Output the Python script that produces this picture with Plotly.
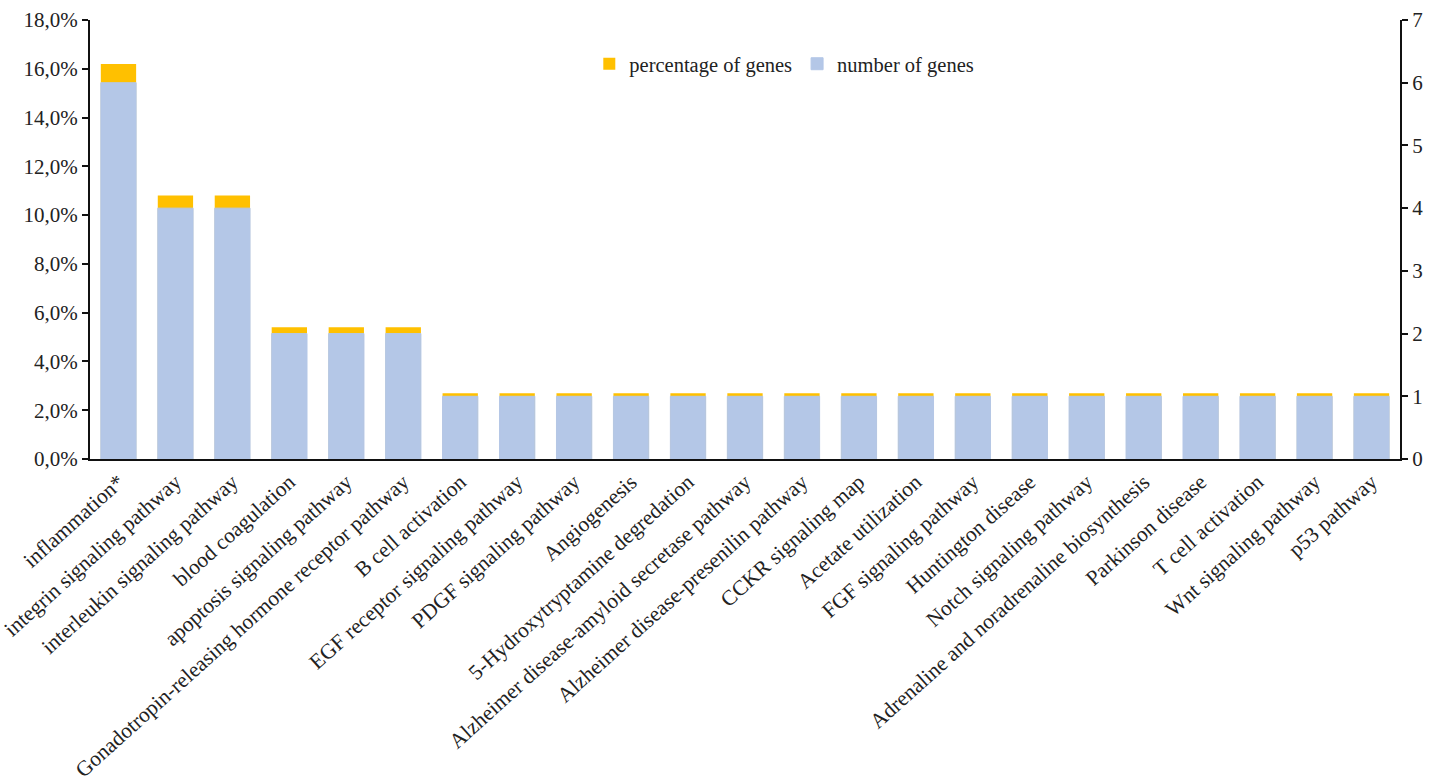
import plotly.graph_objects as go

categories = [
    "inflammation*", "integrin signaling pathway", "interleukin signaling pathway",
    "blood coagulation", "apoptosis signaling pathway",
    "Gonadotropin-releasing hormone receptor pathway", "B cell activation",
    "EGF receptor signaling pathway", "PDGF signaling pathway", "Angiogenesis",
    "5-Hydroxytryptamine degredation", "Alzheimer disease-amyloid secretase pathway",
    "Alzheimer disease-presenilin pathway", "CCKR signaling map", "Acetate utilization",
    "FGF signaling pathway", "Huntington disease", "Notch signaling pathway",
    "Adrenaline and noradrenaline biosynthesis", "Parkinson disease", "T cell activation",
    "Wnt signaling pathway", "p53 pathway",
]
percentage_of_genes = [16.2, 10.8, 10.8, 5.4, 5.4, 5.4] + [2.7] * 17
number_of_genes = [6, 4, 4, 2, 2, 2] + [1] * 17

font_family = "Liberation Serif, Times New Roman, serif"
text_color = "#222222"

fig = go.Figure()
fig.add_trace(go.Bar(
    x=categories, y=[v / 100 for v in percentage_of_genes], name="percentage of genes",
    marker=dict(color="#FFC000", line=dict(width=0)), yaxis="y",
))
fig.add_trace(go.Bar(
    x=categories, y=number_of_genes, name="number of genes",
    marker=dict(color="#B4C7E7", line=dict(width=1, color="#B4C7E7")), yaxis="y2",
))

fig.update_layout(
    width=1443, height=784,
    margin=dict(l=90, r=43, t=20, b=325),
    paper_bgcolor="white", plot_bgcolor="white",
    separators=",.",
    barmode="overlay", bargap=0.38,
    font=dict(family=font_family, size=21, color=text_color),
    legend=dict(orientation="h", x=0.53, y=0.90, xanchor="center", yanchor="middle",
                font=dict(size=20.5), bgcolor="rgba(0,0,0,0)", itemwidth=30,
                tracegroupgap=0, traceorder="normal"),
    xaxis=dict(tickangle=-42, showline=True, linecolor="#111111", linewidth=2,
               ticks="", tickfont=dict(size=21.5), showgrid=False, automargin=False),
    yaxis=dict(range=[0, 0.18], dtick=0.02, tickformat=".1%", showline=True,
               linecolor="#111111", linewidth=2, ticks="outside", ticklen=6,
               tickwidth=2, tickcolor="#111111", showgrid=False, zeroline=False,
               tickfont=dict(size=21), automargin=False),
    yaxis2=dict(range=[0, 7], dtick=1, overlaying="y", side="right", showline=True,
                linecolor="#111111", linewidth=2, ticks="outside", ticklen=6,
                tickwidth=2, tickcolor="#111111", showgrid=False, zeroline=False,
                tickfont=dict(size=21), automargin=False),
)

fig.write_html("out.html")
